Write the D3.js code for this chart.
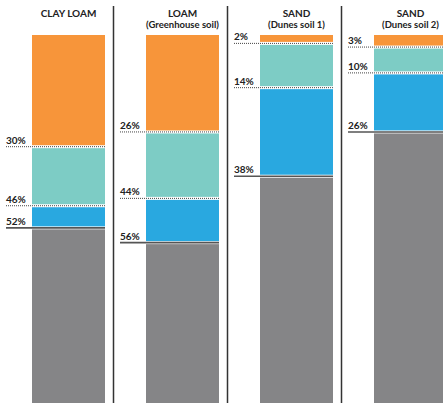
<!DOCTYPE html>
<html>
<head>
<meta charset="utf-8">
<script src="https://cdn.jsdelivr.net/npm/d3@7"></script>
<style>
  html, body { margin: 0; padding: 0; background: #fff; }
  svg { display: block; }
  text { font-family: Lato, "Open Sans", sans-serif; font-weight: 700; fill: #222; }
</style>
</head>
<body>
<svg id="chart" width="443" height="403"></svg>
<script>
// ---- data ----
const categories = ["CLAY LOAM", "LOAM", "SAND", "SAND"];
const subtitles = ["", "(Greenhouse soil)", "(Dunes soil 1)", "(Dunes soil 2)"];
// cumulative percentages at the boundaries (top to bottom)
const boundary1 = [30, 26, 2, 3];
const boundary2 = [46, 44, 14, 10];
const boundary3 = [52, 56, 38, 26];
const tickSuffix = "%";
const segmentNames = ["orange", "teal", "blue", "gray"];

// ---- layout ----
const W = 443, H = 403;
const svg = d3.select("#chart");
const colors = d3.scaleOrdinal().domain(segmentNames)
  .range(["#F7953A", "#7DCCC5", "#29A8E0", "#858587"]);

const x = d3.scaleBand().domain(d3.range(categories.length))
  .range([-6, 450]).paddingInner(0).paddingOuter(0);
const barW = 73;
const barOffset = 38; // bar left within band
const y = d3.scaleLinear().domain([0, 100]).range([36, 405]);
const barTop = 35;

categories.forEach((cat, i) => {
  const bx = x(i) + barOffset;
  const g = svg.append("g");
  const bounds = [boundary1[i], boundary2[i], boundary3[i]];
  const edges = [0, ...bounds, 100];
  // segments
  for (let s = 0; s < 4; s++) {
    const y0 = s === 0 ? barTop : y(edges[s]) + 1.5;
    const y1 = s === 3 ? H + 5 : y(edges[s + 1]) - 1.5;
    g.append("rect")
      .attr("x", bx).attr("y", y0)
      .attr("width", barW).attr("height", Math.max(0, y1 - y0))
      .attr("fill", colors(segmentNames[s]));
  }
  // boundary lines & labels
  bounds.forEach((v, k) => {
    const ly = y(v);
    const line = g.append("line")
      .attr("x1", bx - 26).attr("x2", bx + barW)
      .attr("y1", ly).attr("y2", ly);
    if (k < 2) {
      line.attr("stroke", "#444").attr("stroke-width", 1)
        .attr("stroke-dasharray", "1,1");
    } else {
      line.attr("stroke", "#555").attr("stroke-width", 1.6);
    }
    g.append("text")
      .attr("x", bx - 26).attr("y", ly - 3)
      .attr("font-size", 10)
      .text(v + tickSuffix);
  });
  // titles
  const cx = bx + barW / 2;
  g.append("text").attr("x", cx).attr("y", 17)
    .attr("text-anchor", "middle").attr("font-size", 10)
    .text(cat);
  if (subtitles[i]) {
    g.append("text").attr("x", cx).attr("y", 28)
      .attr("text-anchor", "middle").attr("font-size", 9.5)
      .text(subtitles[i]);
  }
  // separator
  if (i < categories.length - 1) {
    const sx = bx + barW + 8.5;
    svg.append("line")
      .attr("x1", sx).attr("x2", sx)
      .attr("y1", 6).attr("y2", H)
      .attr("stroke", "#333").attr("stroke-width", 1.5);
  }
});
</script>
</body>
</html>
